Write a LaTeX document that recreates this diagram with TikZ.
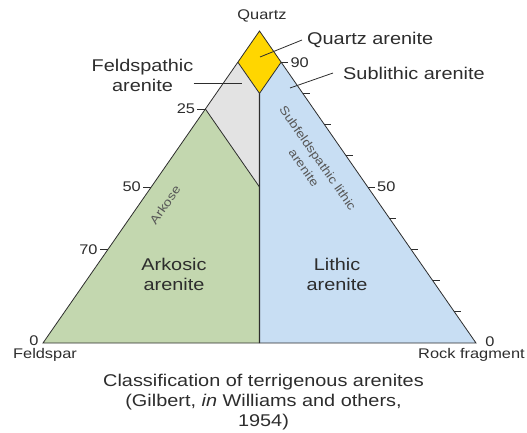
\documentclass[tikz,border=0pt]{standalone}
\usepackage{fontspec}
\setmainfont{Liberation Sans}[FakeStretch=1.17]
\usetikzlibrary{calc}
\definecolor{qtzyellow}{RGB}{255,214,0}
\definecolor{fspgrey}{RGB}{227,227,227}
\definecolor{arkgreen}{RGB}{195,215,175}
\definecolor{lithblue}{RGB}{200,222,243}
\definecolor{inkgrey}{RGB}{45,45,45}

\begin{document}
\begin{tikzpicture}[x=1pt,y=-1pt,
	lab/.style={font=\fontsize{17}{20}\selectfont, text=inkgrey, inner sep=0pt, align=center},
	num/.style={font=\fontsize{14}{16}\selectfont, text=inkgrey, inner sep=2pt},
	rot/.style={font=\fontsize{12}{17}\selectfont, text=inkgrey!80, inner sep=0pt, align=center},
	edge/.style={draw=inkgrey, line width=0.8pt}]
			\useasboundingbox (0,0) rectangle (527,433);
			% corners of the triangle
			\coordinate (Q) at (259.5,31);
			\coordinate (F) at (43,343);
			\coordinate (L) at (476,343);
			\coordinate (qf) at (barycentric cs:Q=0.9,F=0.1);
			\coordinate (ql) at (barycentric cs:Q=0.9,L=0.1);
			\coordinate (qm) at (barycentric cs:Q=0.8,F=0.1,L=0.1);
			\coordinate (f25) at (barycentric cs:Q=0.75,F=0.25);
			\coordinate (m50) at (barycentric cs:Q=0.5,F=0.25,L=0.25);
			\coordinate (bm) at (barycentric cs:F=0.5,L=0.5);
			% fields
			\fill[qtzyellow] (Q) -- (qf) -- (qm) -- (ql) -- cycle;
			\fill[fspgrey] (qf) -- (qm) -- (m50) -- (f25) -- cycle;
			\fill[arkgreen] (f25) -- (m50) -- (bm) -- (F) -- cycle;
			\fill[lithblue] (ql) -- (qm) -- (bm) -- (L) -- cycle;
			\draw[edge] (Q) -- (F) -- (L) -- cycle;
			\draw[edge] (qf) -- (qm) -- (ql);
			\draw[edge] (f25) -- (m50);
			\draw[draw=inkgrey, line width=1.4pt] (qm) -- (bm);
			% ticks
			\foreach \k in {2,3,4,6,7,8,9}
				\draw[edge] ($(Q)!\k/10!(L)$) -- ++(7,0);
			\draw[edge] (ql) -- ++(7,0) node[num, right] (r90) {90};
			\draw[edge] ($(Q)!0.5!(L)$) -- ++(7,0) node[num, right] (r50) {50};
			\foreach \t/\v in {0.25/25, 0.5/50, 0.7/70}
				\draw[edge] ($(Q)!\t!(F)$) -- ++(-8,0) node[num, left] (l\v) {\v};
			\node[num] (f0) at (34,341) {0};
			\node[num] (r0) at (490,342) {0};
			% corner names
			\node[num] (quartz) at (262,16) {Quartz};
			\node[num] (feldspar) at (45,355) {Feldspar};
			\node[num, anchor=west, inner sep=0pt] (rockfrag) at (418,355) {Rock fragment};
			% field names
			\node[lab] (ark) at (174,274) {Arkosic\\arenite};
			\node[lab] (lith) at (337,274) {Lithic\\arenite};
			\node[rot, rotate=55] (arkose) at (165,205) {Arkose};
			\node[rot, rotate=-55] (subfl) at (311,163) {Subfeldspathic lithic\\arenite};
			\node[lab, anchor=west] (qa) at (307,40) {Quartz arenite};
			\node[lab, anchor=west] (sl) at (343,73) {Sublithic arenite};
			\node[lab] (fa) at (142.5,75) {Feldspathic\\arenite};
			\coordinate (qa-pt) at (260,57);
			\coordinate (sl-pt) at (290,88);
			\coordinate (fa-pt) at (242,83);
			\draw[edge] (qa-pt) -- ([xshift=-5]qa.west);
			\draw[edge] (sl-pt) -- ([xshift=-10]sl.west);
			\draw[edge] (fa-pt -| fa.east) -- (fa-pt);
			% caption
			\node[lab] (caption) at (263.5,402) {Classification of terrigenous arenites\\(Gilbert, \textit{in} Williams and others,\\1954)};
		\end{tikzpicture}
\end{document}
